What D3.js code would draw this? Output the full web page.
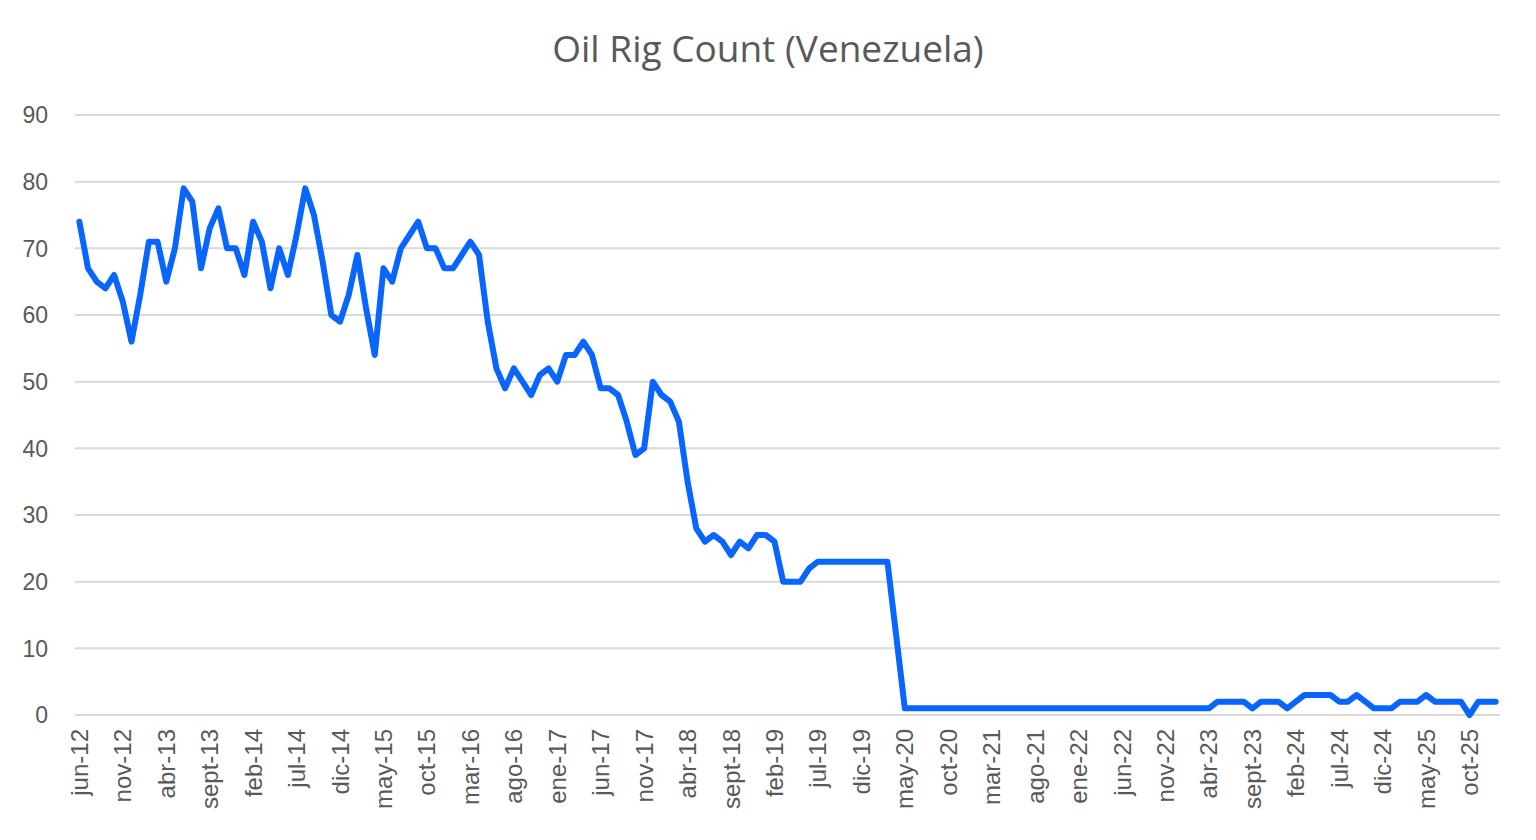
<!DOCTYPE html>
<html>
<head>
<meta charset="utf-8">
<script src="https://cdn.jsdelivr.net/npm/d3@7"></script>
<style>
  body { margin: 0; background: #fff; }
</style>
</head>
<body>
<div id="chart"></div>
<script>
// month names used by the category axis (Spanish, as in the source)
var monthNames = ["ene", "feb", "mar", "abr", "may", "jun", "jul", "ago", "sept", "oct", "nov", "dic"];
var startMonth = 5, startYear = 12;   // jun-12

// monthly rig count, jun-12 .. ene-26
var rigCount = [
  74, 67, 65, 64, 66, 62, 56, 63, 71, 71, 65, 70, 79, 77, 67, 73, 76, 70, 70, 66,
  74, 71, 64, 70, 66, 72, 79, 75, 68, 60, 59, 63, 69, 61, 54, 67, 65, 70, 72, 74,
  70, 70, 67, 67, 69, 71, 69, 59, 52, 49, 52, 50, 48, 51, 52, 50, 54, 54, 56, 54,
  49, 49, 48, 44, 39, 40, 50, 48, 47, 44, 35, 28, 26, 27, 26, 24, 26, 25, 27, 27,
  26, 20, 20, 20, 22, 23, 23, 23, 23, 23, 23, 23, 23, 23, 12, 1, 1, 1, 1, 1,
  1, 1, 1, 1, 1, 1, 1, 1, 1, 1, 1, 1, 1, 1, 1, 1, 1, 1, 1, 1,
  1, 1, 1, 1, 1, 1, 1, 1, 1, 1, 1, 2, 2, 2, 2, 1, 2, 2, 2, 1,
  2, 3, 3, 3, 3, 2, 2, 3, 2, 1, 1, 1, 2, 2, 2, 3, 2, 2, 2, 2,
  0, 2, 2, 2
];

var yTicks = [0, 10, 20, 30, 40, 50, 60, 70, 80, 90];

var tickLabels = ["jun-12", "nov-12", "abr-13", "sept-13", "feb-14", "jul-14", "dic-14", "may-15",
  "oct-15", "mar-16", "ago-16", "ene-17", "jun-17", "nov-17", "abr-18", "sept-18", "feb-19",
  "jul-19", "dic-19", "may-20", "oct-20", "mar-21", "ago-21", "ene-22", "jun-22", "nov-22",
  "abr-23", "sept-23", "feb-24", "jul-24", "dic-24", "may-25", "oct-25"];

// build category names
var categories = [];
for (var i = 0; i < rigCount.length; i++) {
  var m = startMonth + i;
  categories.push(monthNames[m % 12] + "-" + (startYear + Math.floor(m / 12)));
}
var data = categories.map(function (c, i) { return { name: c, value: rigCount[i] }; });

var width = 1536, height = 840;
var plotLeft = 75, plotRight = 1500, plotTop = 115, plotBottom = 715;

var svg = d3.select("#chart").append("svg")
  .attr("width", width)
  .attr("height", height);

var xScale = d3.scaleBand().domain(categories).range([plotLeft, plotRight]);
var yScale = d3.scaleLinear().domain([0, 90]).range([plotBottom, plotTop]);
var xc = function (name) { return xScale(name) + xScale.bandwidth() / 2; };

// title
svg.append("text")
  .attr("x", 768)
  .attr("y", 62)
  .attr("text-anchor", "middle")
  .style("font-family", "'Open Sans', 'Noto Sans', sans-serif")
  .style("font-size", "37px")
  .style("fill", "#595959")
  .text("Oil Rig Count (Venezuela)");

// gridlines
svg.append("g")
  .selectAll("line")
  .data(yTicks)
  .enter()
  .append("line")
  .attr("x1", plotLeft)
  .attr("x2", plotRight)
  .attr("y1", d => yScale(d))
  .attr("y2", d => yScale(d))
  .style("stroke", "#d9d9d9")
  .style("stroke-width", 2);

// y labels
svg.append("g")
  .selectAll("text")
  .data(yTicks)
  .enter()
  .append("text")
  .attr("x", 48)
  .attr("y", d => yScale(d))
  .attr("dy", "0.36em")
  .attr("text-anchor", "end")
  .style("font-family", "'Liberation Sans', Arial, sans-serif")
  .style("font-size", "23px")
  .style("fill", "#595959")
  .text(d => d);

// x labels (rotated)
svg.append("g")
  .selectAll("text")
  .data(tickLabels)
  .enter()
  .append("text")
  .attr("transform", d => "translate(" + (xc(d) + 8.5) + ",729) rotate(-90)")
  .attr("text-anchor", "end")
  .style("font-family", "'Liberation Sans', Arial, sans-serif")
  .style("font-size", "24px")
  .style("fill", "#595959")
  .text(d => d);

// line
var line = d3.line()
  .x(d => xc(d.name))
  .y(d => yScale(d.value));

svg.append("path")
  .datum(data)
  .attr("d", line)
  .style("fill", "none")
  .style("stroke", "#0866ff")
  .style("stroke-width", 6)
  .style("stroke-linejoin", "round")
  .style("stroke-linecap", "round");
</script>
</body>
</html>
